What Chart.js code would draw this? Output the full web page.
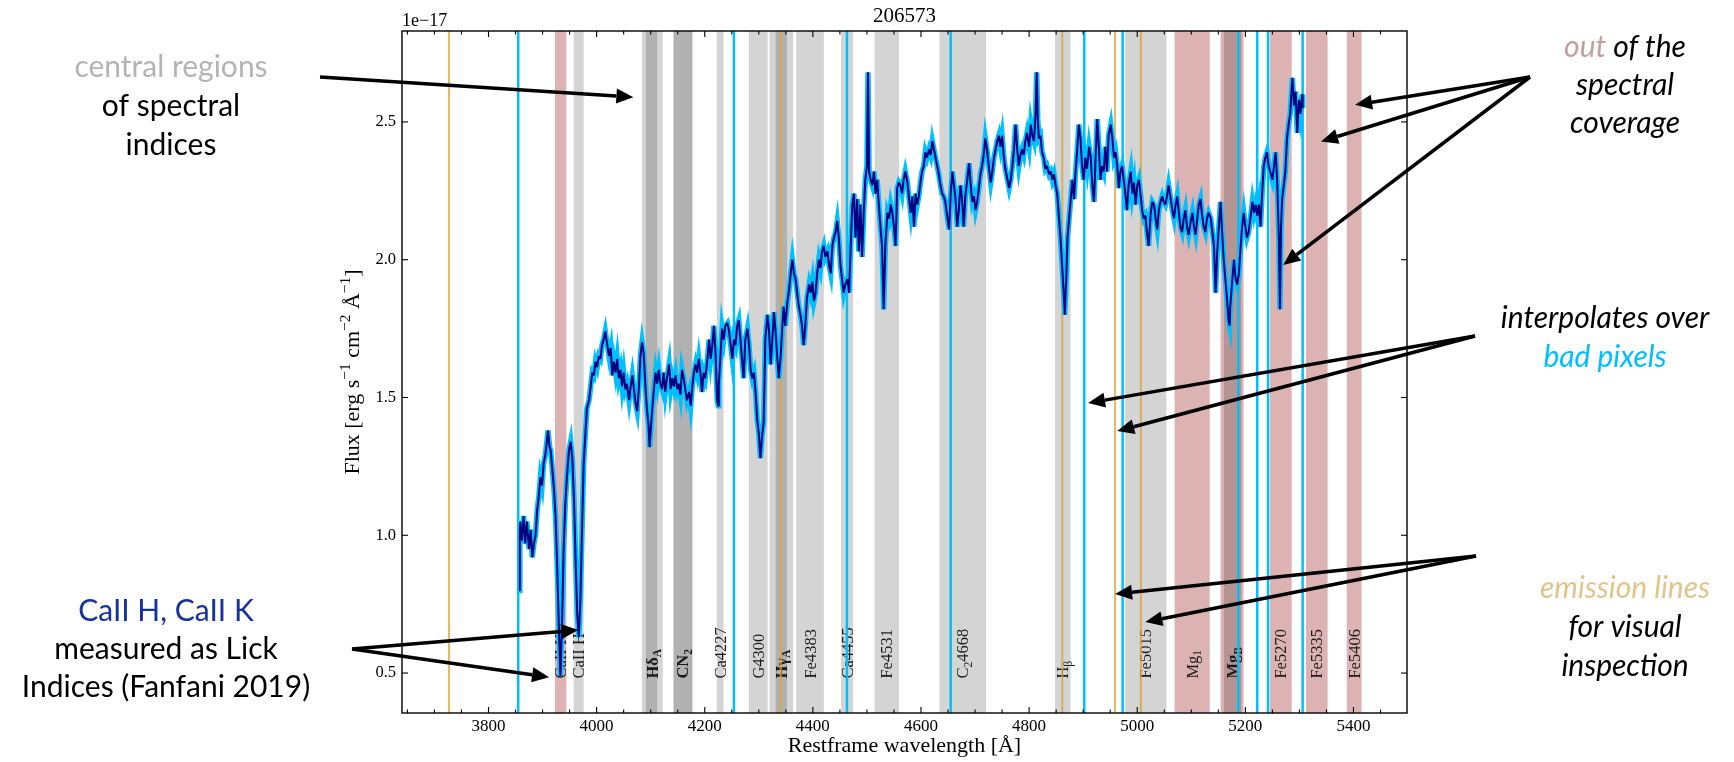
<!DOCTYPE html>
<html>
<head>
<meta charset="utf-8">
<script src="https://cdn.jsdelivr.net/npm/chart.js@4.4.1/dist/chart.umd.min.js"></script>
<style>
html, body { margin: 0; padding: 0; background: #fff; }
#wrap { width: 1734px; height: 762px; }
</style>
</head>
<body>
<div id="wrap"><canvas id="chart" width="1734" height="762"></canvas></div>
<script>
// spectrum (flux in units of 1e-17)
const wave = [
  3857, 3858, 3859, 3862, 3865, 3868, 3871, 3875, 3878, 3881, 3884, 3887, 3890, 3893, 3896, 3899, 3902, 3905, 3908, 3910,
  3913, 3915, 3918, 3921, 3924, 3927, 3930, 3933, 3936, 3939, 3942, 3945, 3949, 3952, 3955, 3958, 3961, 3964, 3967, 3970,
  3973, 3976, 3979, 3982, 3986, 3989, 3992, 3995, 3998, 4001, 4004, 4007, 4010, 4013, 4016, 4019, 4023, 4026, 4029, 4032,
  4035, 4038, 4041, 4044, 4047, 4050, 4053, 4056, 4060, 4063, 4066, 4069, 4072, 4075, 4078, 4081, 4084, 4087, 4090, 4093,
  4096, 4098, 4101, 4103, 4106, 4109, 4112, 4115, 4118, 4121, 4124, 4127, 4130, 4134, 4137, 4140, 4143, 4146, 4149, 4152,
  4155, 4158, 4161, 4164, 4167, 4171, 4174, 4177, 4180, 4183, 4186, 4189,
  4192, 4195, 4198, 4201, 4205, 4208, 4211, 4214, 4217, 4220, 4223, 4225, 4226, 4229, 4232, 4235, 4238, 4242, 4245, 4248,
  4251, 4254, 4257, 4260, 4263, 4266, 4269, 4272, 4275, 4279, 4282, 4285, 4288, 4291, 4294, 4297, 4300, 4303, 4306, 4309,
  4312, 4316, 4319, 4322, 4325, 4328, 4331, 4334, 4337, 4340, 4343, 4346, 4349, 4353, 4356, 4359, 4362, 4365, 4368, 4371,
  4374, 4377, 4380, 4383, 4386, 4389, 4393, 4396, 4399, 4402, 4405, 4408, 4411, 4414, 4417, 4420, 4423, 4427, 4430, 4433,
  4436, 4439, 4442, 4445, 4448, 4451, 4454, 4457, 4460, 4464, 4467, 4470, 4473, 4476, 4479, 4482, 4485, 4488, 4491, 4494,
  4497, 4500, 4502, 4504, 4507, 4510, 4513, 4516, 4519, 4522, 4525, 4528, 4531, 4534, 4538, 4541, 4544, 4547, 4550, 4553,
  4556, 4559, 4562, 4565, 4568, 4571, 4575, 4578,
  4581, 4584, 4587, 4590, 4593, 4596, 4599, 4602, 4605, 4608, 4611, 4615, 4618, 4621, 4624, 4627, 4630, 4633, 4636, 4639,
  4642, 4645, 4649, 4652, 4655, 4658, 4661, 4664, 4667, 4670, 4673, 4676, 4679, 4682, 4685, 4689, 4692, 4695, 4698, 4701,
  4704, 4707, 4710, 4713, 4716, 4719, 4722, 4726, 4729, 4732, 4735, 4738, 4741, 4744, 4747, 4750, 4753, 4756, 4760, 4763,
  4766, 4769, 4772, 4775, 4778, 4781, 4784, 4787, 4790, 4793, 4796, 4800, 4803, 4806, 4809, 4812, 4814, 4816, 4818, 4821,
  4824, 4827, 4830, 4833, 4837, 4840, 4843, 4846, 4849, 4852, 4855, 4858, 4861, 4864, 4866, 4869, 4871, 4874, 4877, 4880,
  4883, 4886, 4889, 4892, 4895, 4898, 4901, 4904, 4907, 4911, 4914, 4917, 4920, 4923, 4926, 4929, 4932, 4935, 4938,
  4941, 4944, 4947, 4951, 4954, 4957, 4960, 4963, 4966, 4969, 4972, 4975, 4978, 4981, 4984, 4988, 4991, 4994, 4997, 5000,
  5003, 5006, 5009, 5012, 5015, 5018, 5021, 5025, 5028, 5031, 5034, 5037, 5040, 5043, 5046, 5049, 5052, 5055, 5058, 5062,
  5065, 5068, 5071, 5074, 5077, 5080, 5083, 5086, 5089, 5092, 5095, 5099, 5102, 5105, 5108, 5111, 5114, 5117, 5120, 5123,
  5126, 5129, 5132, 5136, 5139, 5142, 5145, 5148, 5151, 5154, 5157, 5160, 5163, 5166, 5169, 5171, 5172, 5176, 5179, 5182,
  5185, 5188, 5191, 5194, 5197, 5200, 5203, 5206, 5210, 5213, 5216, 5219, 5222, 5225, 5228, 5231, 5234, 5237, 5240, 5243,
  5246, 5250, 5253, 5256, 5259, 5262, 5264, 5266, 5268, 5271, 5274, 5277, 5280, 5283, 5287, 5290, 5293, 5296, 5299, 5302,
  5305, 5306
]
const flux = [
  0.80, 1.02, 1.05, 0.98, 1.07, 0.97, 1.05, 0.95, 1.02, 0.92, 0.97, 1.00, 1.09, 1.14, 1.21, 1.18, 1.26, 1.29, 1.34, 1.38,
  1.32, 1.31, 1.24, 1.17, 1.07, 0.89, 0.68, 0.49, 0.68, 0.95, 1.11, 1.21, 1.31, 1.34, 1.28, 1.14, 0.92, 0.72, 0.63, 0.77,
  1.02, 1.26, 1.36, 1.46, 1.49, 1.54, 1.59, 1.58, 1.63, 1.61, 1.65, 1.64, 1.69, 1.71, 1.74, 1.70, 1.65, 1.68, 1.58, 1.63,
  1.59, 1.64, 1.57, 1.60, 1.54, 1.59, 1.53, 1.55, 1.49, 1.54, 1.58, 1.53, 1.48, 1.45, 1.53, 1.65, 1.70, 1.66, 1.55, 1.46,
  1.40, 1.32, 1.41, 1.46, 1.53, 1.59, 1.55, 1.60, 1.55, 1.53, 1.59, 1.52, 1.57, 1.62, 1.53, 1.57, 1.54, 1.58, 1.53, 1.55,
  1.51, 1.60, 1.57, 1.53, 1.49, 1.52, 1.47, 1.54, 1.59, 1.62, 1.59, 1.64,
  1.59, 1.52, 1.59, 1.57, 1.64, 1.71, 1.64, 1.69, 1.76, 1.66, 1.49, 1.47, 1.55, 1.65, 1.75, 1.71, 1.76, 1.77, 1.74, 1.69,
  1.64, 1.71, 1.69, 1.76, 1.78, 1.71, 1.64, 1.57, 1.71, 1.75, 1.69, 1.60, 1.57, 1.59, 1.52, 1.42, 1.37, 1.28, 1.36, 1.41,
  1.71, 1.80, 1.74, 1.62, 1.71, 1.81, 1.74, 1.65, 1.57, 1.64, 1.74, 1.83, 1.76, 1.85, 1.89, 1.95, 2.00, 1.95, 1.93, 1.88,
  1.83, 1.80, 1.76, 1.69, 1.76, 1.86, 1.91, 1.88, 1.92, 1.85, 1.88, 1.95, 2.00, 1.97, 2.03, 2.05, 2.01, 2.03, 1.98, 1.95,
  2.05, 2.08, 2.10, 2.14, 2.08, 1.98, 1.93, 1.88, 1.91, 1.93, 1.88, 2.05, 2.20, 2.24, 2.08, 2.22, 2.03, 2.20, 2.01, 2.17,
  2.29, 2.34, 2.68, 2.32, 2.29, 2.27, 2.32, 2.24, 2.29, 2.20, 2.12, 2.05, 1.82, 2.05, 2.17, 2.15, 2.20, 2.17, 2.12, 2.05,
  2.26, 2.28, 2.27, 2.24, 2.29, 2.32, 2.28, 2.22,
  2.17, 2.23, 2.12, 2.24, 2.20, 2.23, 2.28, 2.32, 2.34, 2.39, 2.37, 2.40, 2.38, 2.43, 2.40, 2.37, 2.34, 2.31, 2.27, 2.24,
  2.23, 2.21, 2.15, 2.11, 2.24, 2.32, 2.27, 2.22, 2.12, 2.18, 2.27, 2.22, 2.12, 2.23, 2.28, 2.35, 2.27, 2.21, 2.23, 2.18,
  2.21, 2.26, 2.31, 2.34, 2.38, 2.44, 2.40, 2.33, 2.28, 2.32, 2.37, 2.40, 2.43, 2.45, 2.41, 2.45, 2.38, 2.33, 2.29, 2.26,
  2.29, 2.34, 2.40, 2.49, 2.40, 2.34, 2.38, 2.40, 2.38, 2.43, 2.46, 2.41, 2.49, 2.45, 2.43, 2.53, 2.68, 2.51, 2.44, 2.45,
  2.39, 2.37, 2.33, 2.34, 2.31, 2.32, 2.29, 2.31, 2.27, 2.24, 2.16, 2.08, 1.98, 1.88, 1.80, 1.95, 2.08, 2.15, 2.22, 2.29,
  2.22, 2.32, 2.40, 2.49, 2.44, 2.34, 2.29, 2.37, 2.33, 2.41, 2.37, 2.27, 2.21, 2.37, 2.51, 2.41, 2.29, 2.34, 2.32,
  2.41, 2.32, 2.45, 2.49, 2.44, 2.37, 2.39, 2.34, 2.26, 2.32, 2.34, 2.29, 2.24, 2.18, 2.27, 2.32, 2.24, 2.28, 2.20, 2.27,
  2.29, 2.24, 2.18, 2.15, 2.16, 2.10, 2.05, 2.17, 2.21, 2.20, 2.15, 2.11, 2.18, 2.21, 2.23, 2.21, 2.20, 2.23, 2.27, 2.22,
  2.18, 2.15, 2.20, 2.23, 2.17, 2.12, 2.10, 2.15, 2.18, 2.12, 2.09, 2.14, 2.17, 2.12, 2.09, 2.15, 2.20, 2.22, 2.16, 2.12,
  2.10, 2.15, 2.17, 2.15, 2.10, 2.05, 1.88, 2.03, 2.12, 2.21, 2.10, 2.00, 1.93, 1.86, 1.78, 1.76, 1.83, 1.93, 2.00, 1.93,
  1.91, 1.95, 2.04, 2.12, 2.17, 2.12, 2.08, 2.10, 2.16, 2.21, 2.17, 2.20, 2.16, 2.20, 2.12, 2.24, 2.34, 2.37, 2.39, 2.34,
  2.32, 2.29, 2.34, 2.39, 2.28, 2.08, 1.82, 2.12, 2.22, 2.27, 2.32, 2.44, 2.49, 2.53, 2.66, 2.56, 2.61, 2.46, 2.58, 2.53,
  2.60, 2.55
]

const xTicks = [3800, 4000, 4200, 4400, 4600, 4800, 5000, 5200, 5400]
const yTicks = [0.5, 1.0, 1.5, 2.0, 2.5]

// central bandpasses of the spectral indices (Angstrom)
const indexNames = ['CaII K', 'CaII H', 'HdA', 'HdF', 'CN1', 'CN2', 'Ca4227', 'G4300', 'HgA', 'HgF', 'Fe4383',
  'Ca4455', 'Fe4531', 'C24668', 'Hb', 'Fe5015', 'Mg1', 'Mg2', 'Mgb', 'Fe5270', 'Fe5335', 'Fe5406']
const indexLo = [3923.0, 3957.5, 4083.5, 4091.0, 4142.125, 4142.125, 4222.25, 4281.375, 4319.75, 4331.25, 4369.125,
  4452.125, 4514.25, 4634.0, 4847.875, 4977.75, 5069.125, 5154.125, 5160.125, 5245.65, 5312.125, 5387.5]
const indexHi = [3944.0, 3976.0, 4122.25, 4112.25, 4177.125, 4177.125, 4234.75, 4316.375, 4363.5, 4352.25, 4420.375,
  4474.625, 4559.25, 4720.25, 4876.625, 5054.0, 5134.125, 5196.625, 5192.625, 5285.65, 5352.125, 5415.0]
const indexTags = ['CaII K', 'CaII H', 'Hδ_A', '', '', 'CN_2', 'Ca4227', 'G4300', 'Hγ_A', '', 'Fe4383',
  'Ca4455', 'Fe4531', 'C_24668', 'H_β', 'Fe5015', 'Mg_1', '', 'Mg_B', 'Fe5270', 'Fe5335', 'Fe5406']
const outOfCoverage = ['CaII K', 'Mg1', 'Mg2', 'Fe5270', 'Fe5335', 'Fe5406']

const badPixels = [3855, 4254, 4463, 4655, 4902, 4973, 5187, 5222, 5242, 5306]
const emissionLines = [3727, 4340.5, 4861.3, 4958.9, 5006.8]

const objectId = '206573'

const serif = '"Liberation Serif"'

// '_x' subscript one char, '^{..}' superscript
function parts(s) {
  const out = []
  let i = 0, buf = ''
  while (i < s.length) {
    const c = s[i]
    if (c == '_' || c == '^') {
      if (buf) { out.push({ t: buf, k: 0 }); buf = '' }
      let t
      if (s[i + 1] == '{') { const j = s.indexOf('}', i); t = s.slice(i + 2, j); i = j + 1 }
      else { t = s[i + 1]; i += 2 }
      out.push({ t: t, k: c == '_' ? -1 : 1 })
    } else { buf += c; i++ }
  }
  if (buf) out.push({ t: buf, k: 0 })
  return out
}

function richWidth(ctx, ps, size, weight) {
  let w = 0
  ps.forEach(p => {
    ctx.font = weight + ' ' + (p.k ? size * 0.7 : size) + 'px ' + serif
    w += ctx.measureText(p.t).width
  })
  return w
}

function drawRich(ctx, ps, x, y, size, weight) {
  ps.forEach(p => {
    ctx.font = weight + ' ' + (p.k ? size * 0.7 : size) + 'px ' + serif
    const dy = p.k < 0 ? size * 0.22 : (p.k > 0 ? -size * 0.4 : 0)
    ctx.fillText(p.t, x, y + dy)
    x += ctx.measureText(p.t).width
  })
}

function arrow(ctx, x0, y0, x1, y1) {
  const ang = Math.atan2(y1 - y0, x1 - x0)
  const hl = 17, hw = 7.5
  const bx = x1 - hl * Math.cos(ang), by = y1 - hl * Math.sin(ang)
  ctx.beginPath()
  ctx.moveTo(x0, y0)
  ctx.lineTo(bx, by)
  ctx.stroke()
  ctx.beginPath()
  ctx.moveTo(x1, y1)
  ctx.lineTo(bx + hw * Math.sin(ang), by - hw * Math.cos(ang))
  ctx.lineTo(bx - hw * Math.sin(ang), by + hw * Math.cos(ang))
  ctx.closePath()
  ctx.fill()
}

// text blocks and arrows around the plot
const notes = [
  { cx: 171, base: [77, 116, 155], italic: false,
    lines: [[['central regions', '#b4b4b4']], [['of spectral', '#000']], [['indices', '#000']]] },
  { cx: 166, base: [621, 659, 697], italic: false,
    lines: [[['CaII H, CaII K', '#1433a0']], [['measured as Lick', '#000']], [['Indices (Fanfani 2019)', '#000']]] },
  { cx: 1625, base: [57, 95, 133], italic: true,
    lines: [[['out', '#c0a0a0'], [' of the', '#000']], [['spectral', '#000']], [['coverage', '#000']]] },
  { cx: 1605, base: [328, 367], italic: true,
    lines: [[['interpolates over', '#000']], [['bad pixels', '#00bfff']]] },
  { cx: 1625, base: [598, 637, 676], italic: true,
    lines: [[['emission lines', '#e2c48a']], [['for visual', '#000']], [['inspection', '#000']]] }
]
const arrows = [
  { from: [320, 77], to: [[4068, 2.59]] },
  { from: [352, 649], to: [[3966, 0.656], [3912, 0.485]] },
  { from: [1530, 77], to: [[5403, 2.562], [5340, 2.429], [5270, 1.981]] },
  { from: [1475, 336], to: [[4909, 1.48], [4963, 1.378]] },
  { from: [1476, 556], to: [[4959, 0.787], [5015, 0.685]] }
]

const sketch = {
  id: 'sketch',
  beforeDatasetsDraw(chart) {
    const { ctx, chartArea: a, scales: { x, y } } = chart
    ctx.save()
    ctx.beginPath()
    ctx.rect(a.left, a.top, a.right - a.left, a.bottom - a.top)
    ctx.clip()

    indexNames.forEach((n, i) => {
      const x0 = x.getPixelForValue(indexLo[i])
      const x1 = x.getPixelForValue(indexHi[i])
      ctx.fillStyle = outOfCoverage.includes(n) ? 'rgba(160,45,45,0.37)' : 'rgba(0,0,0,0.17)'
      ctx.fillRect(x0, a.top, x1 - x0, a.bottom - a.top)
    })

    ctx.fillStyle = '#1a1a1a'
    ctx.textAlign = 'left'
    ctx.textBaseline = 'alphabetic'
    indexTags.forEach((tag, i) => {
      if (!tag) return
      const twin = indexTags.some((t, j) => !t && indexLo[j] < indexHi[i] && indexHi[j] > indexLo[i])
      const px = x.getPixelForValue((indexLo[i] + indexHi[i]) / 2)
      const py = y.getPixelForValue(0.48)
      ctx.save()
      ctx.translate(px, py)
      ctx.rotate(-Math.PI / 2)
      drawRich(ctx, parts(tag), 0, 5.5, 16.5, twin ? 'bold' : 'normal')
      ctx.restore()
    })

    ctx.lineWidth = 2.2
    ctx.strokeStyle = 'rgba(214,166,62,0.75)'
    emissionLines.forEach(w => {
      const px = x.getPixelForValue(w)
      ctx.beginPath(); ctx.moveTo(px, a.top); ctx.lineTo(px, a.bottom); ctx.stroke()
    })
    ctx.lineWidth = 2.5
    ctx.strokeStyle = '#00bfff'
    badPixels.forEach(w => {
      const px = x.getPixelForValue(w)
      ctx.beginPath(); ctx.moveTo(px, a.top); ctx.lineTo(px, a.bottom); ctx.stroke()
    })
    ctx.restore()
  },
  afterDraw(chart) {
    const { ctx, chartArea: a, scales: { x, y } } = chart
    ctx.save()
    // frame with inward ticks
    ctx.strokeStyle = '#000'
    ctx.lineWidth = 1.4
    ctx.strokeRect(a.left, a.top, a.right - a.left, a.bottom - a.top)
    ctx.lineWidth = 1.1
    const tick = (x0, y0, x1, y1) => { ctx.beginPath(); ctx.moveTo(x0, y0); ctx.lineTo(x1, y1); ctx.stroke() }
    for (let v = 3650; v <= 5450; v += 50) {
      const px = x.getPixelForValue(v)
      const L = xTicks.includes(v) ? 6 : 3.5
      tick(px, a.bottom, px, a.bottom - L)
      tick(px, a.top, px, a.top + L)
    }
    yTicks.forEach(v => {
      const py = y.getPixelForValue(v)
      tick(a.left, py, a.left + 6, py)
      tick(a.right, py, a.right - 6, py)
    })

    // titles
    ctx.fillStyle = '#000'
    ctx.textBaseline = 'alphabetic'
    ctx.textAlign = 'center'
    ctx.font = '21px ' + serif
    ctx.fillText(objectId, (a.left + a.right) / 2, 22)
    ctx.font = '22px ' + serif
    ctx.fillText('Restframe wavelength [Å]', (a.left + a.right) / 2, 752)
    ctx.textAlign = 'left'
    ctx.font = '18px ' + serif
    ctx.fillText('1e−17', a.left, 26)

    const yt = parts('Flux [erg s^{−1} cm^{−2} Å^{−1}]')
    const w = richWidth(ctx, yt, 22, 'normal')
    ctx.save()
    ctx.translate(359, (a.top + a.bottom) / 2)
    ctx.rotate(-Math.PI / 2)
    drawRich(ctx, yt, -w / 2, 0, 22, 'normal')
    ctx.restore()

    // annotations
    notes.forEach(n => {
      const font = (n.italic ? 'italic ' : '') + '30px Lato'
      ctx.font = font
      n.lines.forEach((segs, li) => {
        const total = segs.reduce((s, g) => s + ctx.measureText(g[0]).width, 0)
        let cx = n.cx - total / 2
        segs.forEach(g => {
          ctx.fillStyle = g[1]
          ctx.fillText(g[0], cx, n.base[li])
          cx += ctx.measureText(g[0]).width
        })
      })
    })
    ctx.strokeStyle = '#000'
    ctx.fillStyle = '#000'
    ctx.lineWidth = 3.5
    arrows.forEach(ar => {
      ar.to.forEach(t => {
        arrow(ctx, ar.from[0], ar.from[1], x.getPixelForValue(t[0]), y.getPixelForValue(t[1]))
      })
    })
    ctx.restore()
  }
}

Chart.defaults.color = '#000'
Chart.defaults.font.family = serif

const points = wave.map((w, i) => ({ x: w, y: flux[i] }))

new Chart(document.getElementById('chart'), {
  type: 'line',
  data: {
    datasets: [
      { data: points, borderColor: '#000080', borderWidth: 2, pointRadius: 0, borderJoinStyle: 'bevel', order: 0 },
      { data: points, borderColor: '#00bfff', borderWidth: 5.5, pointRadius: 0, borderJoinStyle: 'miter', order: 1 }
    ]
  },
  options: {
    responsive: false,
    animation: false,
    devicePixelRatio: 1,
    layout: { padding: { top: 31, right: 327, bottom: 0, left: 0 } },
    plugins: { legend: { display: false }, tooltip: { enabled: false } },
    scales: {
      x: {
        type: 'linear', min: 3640, max: 5499,
        grid: { display: false, drawTicks: false },
        border: { display: false },
        ticks: { padding: 3, font: { size: 17 }, maxRotation: 0, autoSkip: false, callback: v => String(v) },
        afterBuildTicks: s => { s.ticks = xTicks.map(v => ({ value: v })) },
        afterFit: s => { s.height = 49 }
      },
      y: {
        type: 'linear', min: 0.355, max: 2.83,
        grid: { display: false, drawTicks: false },
        border: { display: false },
        ticks: { padding: 6, font: { size: 16.5 }, callback: v => v.toFixed(1) },
        afterBuildTicks: s => { s.ticks = yTicks.map(v => ({ value: v })) },
        afterFit: s => { s.width = 402 }
      }
    }
  },
  plugins: [sketch]
})
</script>
</body>
</html>
